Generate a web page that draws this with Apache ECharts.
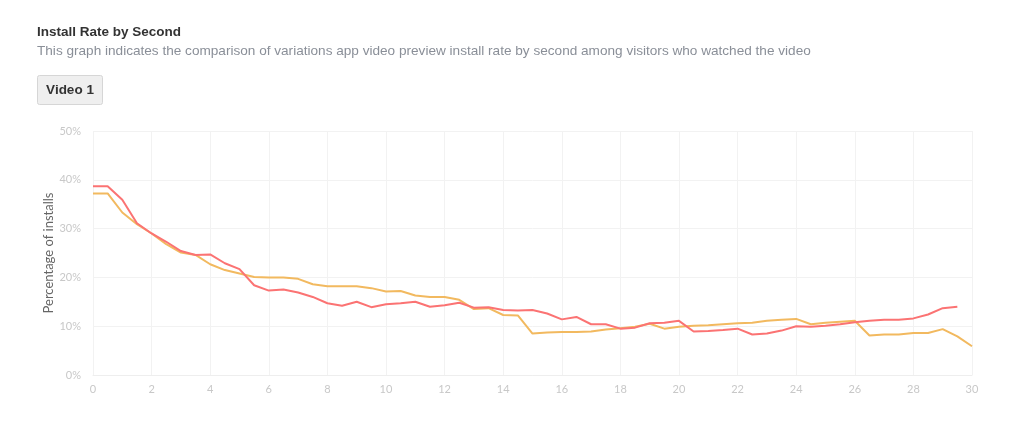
<!DOCTYPE html>
<html>
<head>
<meta charset="utf-8">
<script src="https://cdn.jsdelivr.net/npm/echarts@6/dist/echarts.min.js"></script>
<style>
html,body{margin:0;padding:0;background:#fff;}
#chart{width:1024px;height:448px;}
</style>
</head>
<body>
<div id="chart"></div>
<script>
var seconds = [0,0.5,1,1.5,2,2.5,3,3.5,4,4.5,5,5.5,6,6.5,7,7.5,8,8.5,9,9.5,10,10.5,11,11.5,12,12.5,13,13.5,14,14.5,15,15.5,16,16.5,17,17.5,18,18.5,19,19.5,20,20.5,21,21.5,22,22.5,23,23.5,24,24.5,25,25.5,26,26.5,27,27.5,28,28.5,29,29.5,30];
var redValues = [38.7,38.7,35.9,31.1,29.0,27.3,25.4,24.6,24.7,22.9,21.7,18.4,17.3,17.5,16.9,16.0,14.7,14.2,15.0,13.9,14.5,14.7,15.0,14.0,14.3,14.8,13.8,13.9,13.3,13.2,13.3,12.6,11.4,11.9,10.4,10.4,9.5,9.7,10.6,10.7,11.1,8.9,9.0,9.2,9.5,8.3,8.5,9.1,10.0,9.9,10.1,10.4,10.8,11.1,11.3,11.3,11.6,12.4,13.7,14.0];
var orangeValues = [37.2,37.2,33.3,30.9,29.0,26.8,25.1,24.6,22.7,21.5,20.8,20.1,20.0,20.0,19.7,18.6,18.2,18.2,18.2,17.8,17.1,17.2,16.3,16.0,16.0,15.4,13.5,13.7,12.3,12.2,8.5,8.7,8.8,8.8,8.9,9.3,9.6,9.9,10.5,9.5,9.9,10.1,10.2,10.4,10.6,10.7,11.1,11.3,11.5,10.4,10.7,10.9,11.1,8.1,8.3,8.3,8.6,8.6,9.4,7.9,5.9];
var yTicks = [0,10,20,30,40,50];
var titleText = 'Install Rate by Second';
var subtitleText = 'This graph indicates the comparison of variations app video preview install rate by second among visitors who watched the video';
var buttonText = 'Video 1';
var yAxisName = 'Percentage of installs';

function pairs(vals){ return vals.map(function(v,i){ return [seconds[i], v]; }); }

var chart = echarts.init(document.getElementById('chart'));
chart.setOption({
  animation:false,
  backgroundColor:'#fff',
  title:{
    text:titleText,
    subtext:subtitleText,
    left:32, top:20,
    itemGap:5,
    textStyle:{fontFamily:'Liberation Sans',fontSize:13.5,fontWeight:'bold',color:'#333'},
    subtextStyle:{fontFamily:'Liberation Sans',fontSize:13.6,color:'#8a8f98'}
  },
  graphic:[{
    type:'group', left:37, top:75,
    children:[
      {type:'rect', shape:{x:0,y:0,width:65,height:29,r:2}, style:{fill:'#efefef',stroke:'#d6d6d6',lineWidth:1}},
      {type:'text', x:32.5, y:14.5, style:{text:buttonText,fontFamily:'Liberation Sans',fontSize:13.5,fontWeight:'bold',fill:'#333',align:'center',verticalAlign:'middle'}}
    ]
  }],
  grid:{left:93,right:52,top:131,bottom:73,containLabel:false},
  xAxis:{
    type:'value', min:0, max:30, interval:2,
    axisLine:{show:true,lineStyle:{color:'#eeeeee'}},
    axisTick:{show:false},
    axisLabel:{color:'#c8c8c8',fontFamily:'Lato',fontSize:11,margin:9},
    splitLine:{show:true,lineStyle:{color:'#f2f2f2'}}
  },
  yAxis:{
    type:'value', min:yTicks[0], max:yTicks[yTicks.length-1], interval:10,
    name:yAxisName, nameLocation:'middle', nameGap:38, nameMoveOverlap:false,
    nameTextStyle:{color:'#666',fontFamily:'Lato',fontSize:13},
    axisLine:{show:false}, axisTick:{show:false},
    axisLabel:{color:'#c8c8c8',fontFamily:'Lato',fontSize:11,margin:12,formatter:'{value}%'},
    splitLine:{show:true,lineStyle:{color:'#f2f2f2'}}
  },
  series:[
    {type:'line', data:pairs(orangeValues), showSymbol:false, lineStyle:{color:'#f2b95f',width:2}, itemStyle:{color:'#f2b95f'}, z:2},
    {type:'line', data:pairs(redValues), showSymbol:false, lineStyle:{color:'#fb7373',width:2}, itemStyle:{color:'#fb7373'}, z:3}
  ]
});
</script>
</body>
</html>
